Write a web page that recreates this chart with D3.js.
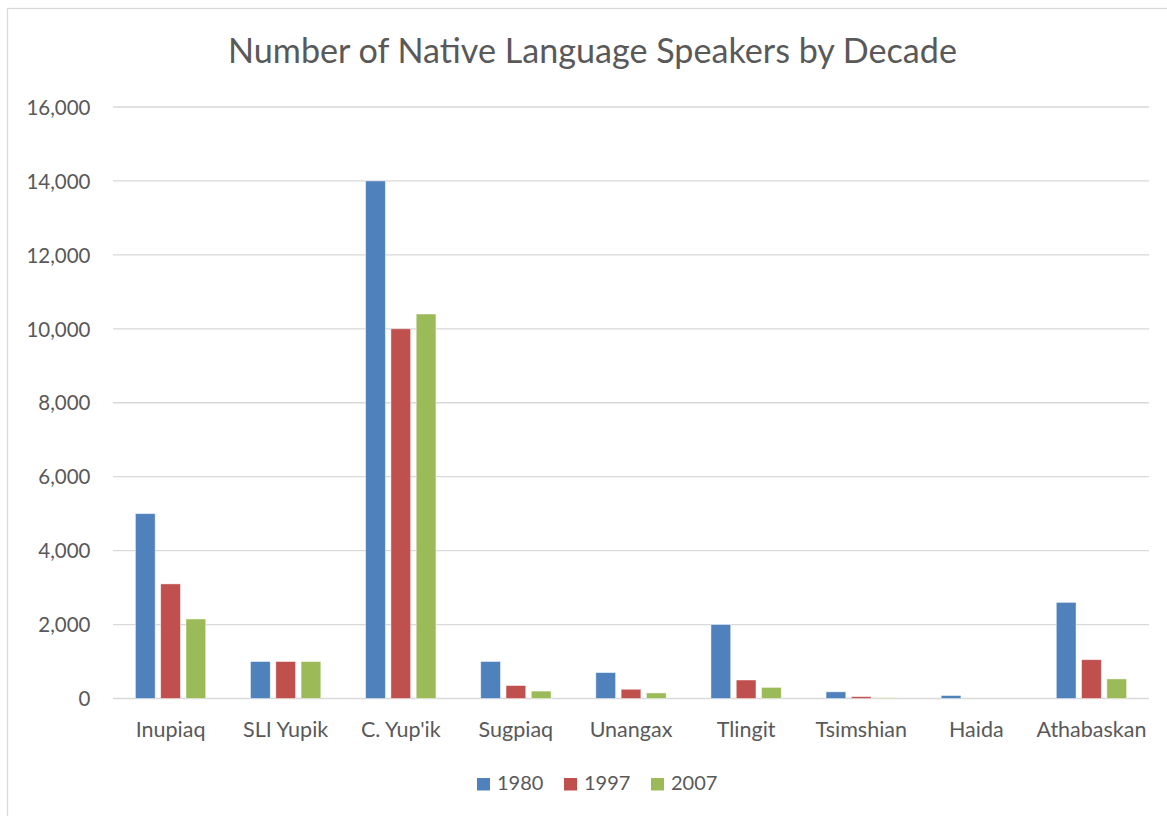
<!DOCTYPE html>
<html><head><meta charset="utf-8">
<script src="https://cdn.jsdelivr.net/npm/d3@7"></script>
<style>body{margin:0;background:#fff;} svg{display:block;}</style>
</head><body>
<svg id="c" width="1167" height="816"></svg>
<script>
const categories = ["Inupiaq","SLI Yupik","C. Yup'ik","Sugpiaq","Unangax","Tlingit","Tsimshian","Haida","Athabaskan"];
const seriesNames = ["1980","1997","2007"];
const values1980 = [5000,1000,14000,1000,700,2000,180,80,2600];
const values1997 = [3100,1000,10000,350,250,500,50,0,1050];
const values2007 = [2150,1000,10400,200,150,300,20,0,530];
const yTicks = [0,2000,4000,6000,8000,10000,12000,14000,16000];
const colors = ["#4F81BD","#C0504D","#9BBB59"];
const title = "Number of Native Language Speakers by Decade";

const font = "Lato, 'Open Sans', sans-serif";
const svg = d3.select("#c");
svg.append("rect").attr("x",7.5).attr("y",8.5).attr("width",1170).attr("height",820)
  .attr("fill","#fff").attr("stroke","#D9D9D9").attr("stroke-width",1.3);

const x0 = d3.scaleBand().domain(categories).range([113,1149]);
const x1 = d3.scaleBand().domain(seriesNames).range([-35.15,35.15]).paddingInner(0.22);
const y = d3.scaleLinear().domain([0,16000]).range([698.5,107]);

// grid
svg.append("g").selectAll("line").data(yTicks).join("line")
  .attr("x1",113).attr("x2",1149).attr("y1",d=>y(d)).attr("y2",d=>y(d))
  .attr("stroke","#D9D9D9").attr("stroke-width",1.3);

// y axis labels
const yAxis = d3.axisLeft(y).tickValues(yTicks).tickFormat(d3.format(",")).tickSize(0).tickPadding(0);
const ya = svg.append("g").attr("transform","translate(90.5,0)").call(yAxis);
ya.select(".domain").remove();
ya.selectAll("text").attr("font-family",font).attr("font-size",20.5).attr("fill","#595959").attr("dy","0.35em");

// x axis labels
const xAxis = d3.axisBottom(x0).tickSize(0).tickPadding(0);
const xa = svg.append("g").attr("transform","translate(0,737)").call(xAxis);
xa.select(".domain").remove();
xa.selectAll("text").attr("font-family",font).attr("font-size",21.5).attr("fill","#595959").attr("dy","0");

// bars
const seriesData = [values1980, values1997, values2007];
const groups = svg.append("g").selectAll("g").data(seriesData).join("g")
  .attr("fill",(d,i)=>colors[i]);
groups.each(function(vals, si){
  d3.select(this).selectAll("rect").data(vals).join("rect")
    .attr("x",(v,ci)=>x0(categories[ci]) + x0.bandwidth()/2 + x1(seriesNames[si]))
    .attr("width",x1.bandwidth())
    .attr("y",v=>y(v))
    .attr("height",v=>y(0)-y(v))
    .attr("stroke","rgba(255,255,255,0.55)").attr("stroke-width",0.8);
});

// title
const t = svg.append("text").attr("x",592.5).attr("y",63).attr("text-anchor","middle")
  .attr("font-family",font).attr("font-size",32).attr("fill","#595959").text(title);
const tw = t.node().getComputedTextLength();
t.attr("font-size", 32*729/tw);

// legend
const legendX = [477,564,651];
const lg = svg.append("g").selectAll("g").data(seriesNames).join("g")
  .attr("transform",(d,i)=>`translate(${legendX[i]},778)`);
lg.append("rect").attr("width",13).attr("height",12.5).attr("fill",(d,i)=>colors[i]);
lg.append("text").attr("x",20).attr("y",11.5).attr("font-family",font).attr("font-size",20)
  .attr("fill","#595959").text(d=>d);
</script>
</body></html>
